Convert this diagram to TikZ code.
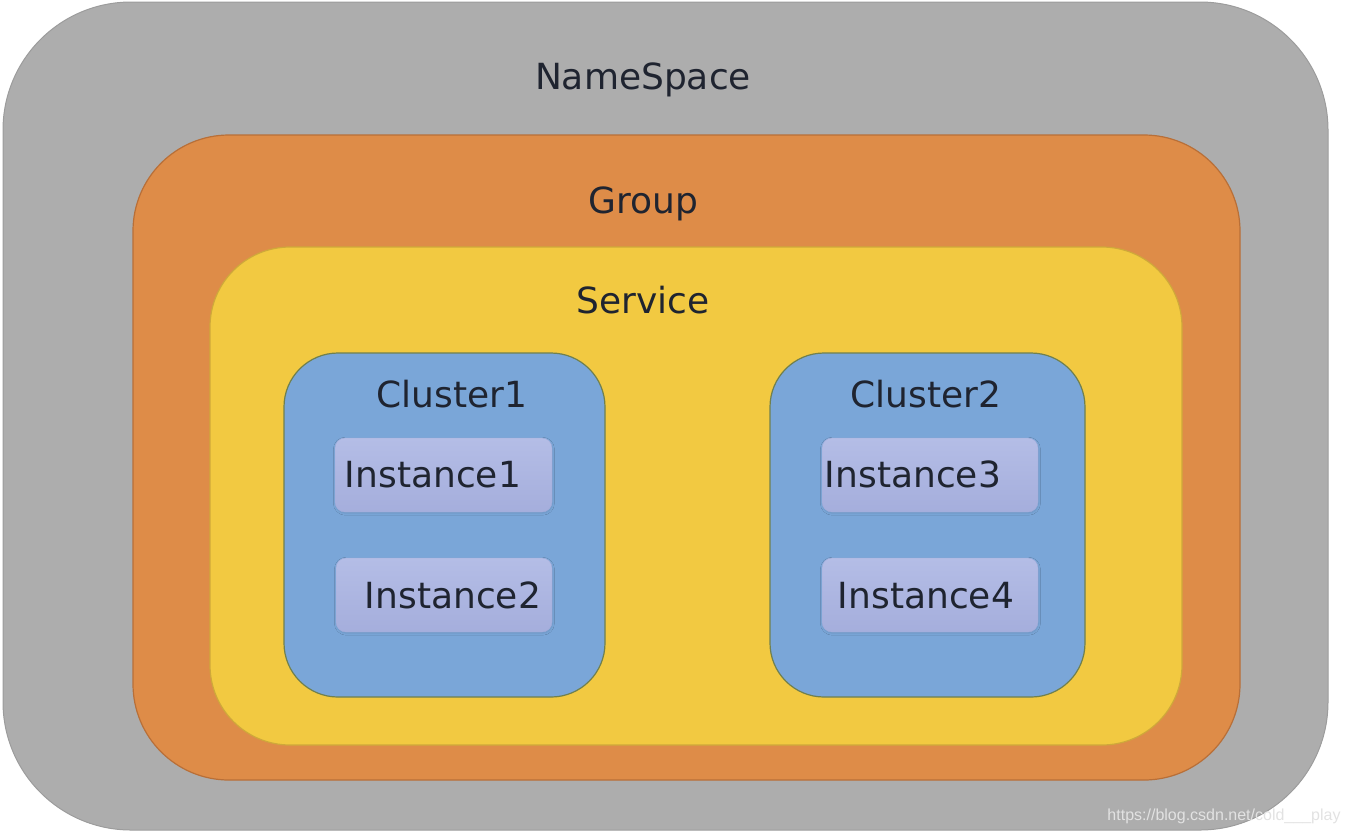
\documentclass[tikz,border=0pt]{standalone}
\usepackage{fontspec,xcolor,tikz}
\setmainfont{DejaVu Sans}
\newfontfamily\wmfont{Liberation Sans}
\usetikzlibrary{shadows.blur}
\definecolor{ink}{HTML}{1F2430}
\definecolor{nsgrey}{HTML}{ADADAD}
\definecolor{nsedge}{HTML}{9C9C9C}
\definecolor{grporange}{HTML}{DE8C48}
\definecolor{grpedge}{HTML}{B86F38}
\definecolor{svcyellow}{HTML}{F2C941}
\definecolor{svcedge}{HTML}{CFA83A}
\definecolor{clblue}{HTML}{7AA6D8}
\definecolor{cledge}{HTML}{70804E}
\definecolor{insttop}{HTML}{B4BDE6}
\definecolor{instbot}{HTML}{A5AEDC}
\definecolor{instedge}{HTML}{A2AEDC}
\definecolor{wmgrey}{HTML}{E2E2E2}
\newcommand{\lbl}{\fontsize{18}{22}\selectfont}
\tikzset{
  title/.style={anchor=base,inner sep=0,text=ink},
  instbox/.style={rounded corners=5pt,top color=insttop,bottom color=instbot,
    draw=instedge,line width=0.2pt,
    blur shadow={shadow xshift=0.2pt,shadow yshift=-0.6pt,shadow opacity=10,shadow blur radius=1pt}},
}

\begin{document}
\begin{tikzpicture}[x=0.5pt,y=-0.5pt,font=\lbl]
\useasboundingbox (0,0) rectangle (1350,832);
% nested scopes
\fill[nsgrey,draw=nsedge,line width=0.5pt,rounded corners=64pt] (3,2) rectangle (1328,830);
\fill[grporange,draw=grpedge,line width=0.6pt,rounded corners=48pt] (133,135) rectangle (1240,780);
\fill[svcyellow,draw=svcedge,line width=0.6pt,rounded corners=40pt] (210,247) rectangle (1182,745);
\fill[clblue,draw=cledge,line width=0.6pt,rounded corners=27pt] (284,353) rectangle (605,697);
\fill[clblue,draw=cledge,line width=0.6pt,rounded corners=27pt] (770,353) rectangle (1085,697);
% instances
\path[instbox] (335,438) rectangle (552,512);
\path[instbox] (336,558) rectangle (552,632);
\path[instbox] (822,438) rectangle (1038,512);
\path[instbox] (822,558) rectangle (1038,632);
% labels
\node[title] (ns) at (643,89) {NameSpace};
\node[title] (grp) at (643,213) {Group};
\node[title] (svc) at (643,313) {Service};
\node[title] (cl1) at (452,407) {Cluster1};
\node[title] (cl2) at (926,407) {Cluster2};
\node[title] (inst1) at (433,487) {Instance1};
\node[title] (inst2) at (453,608) {Instance2};
\node[title] (inst3) at (913,487) {Instance3};
\node[title] (inst4) at (926,608) {Instance4};
\node[anchor=base,inner sep=0,text=wmgrey,font=\wmfont\fontsize{8}{10}\selectfont] (wm) at (1224,820) {https://blog.csdn.net/cold\_\_\_play};
\end{tikzpicture}
\end{document}
